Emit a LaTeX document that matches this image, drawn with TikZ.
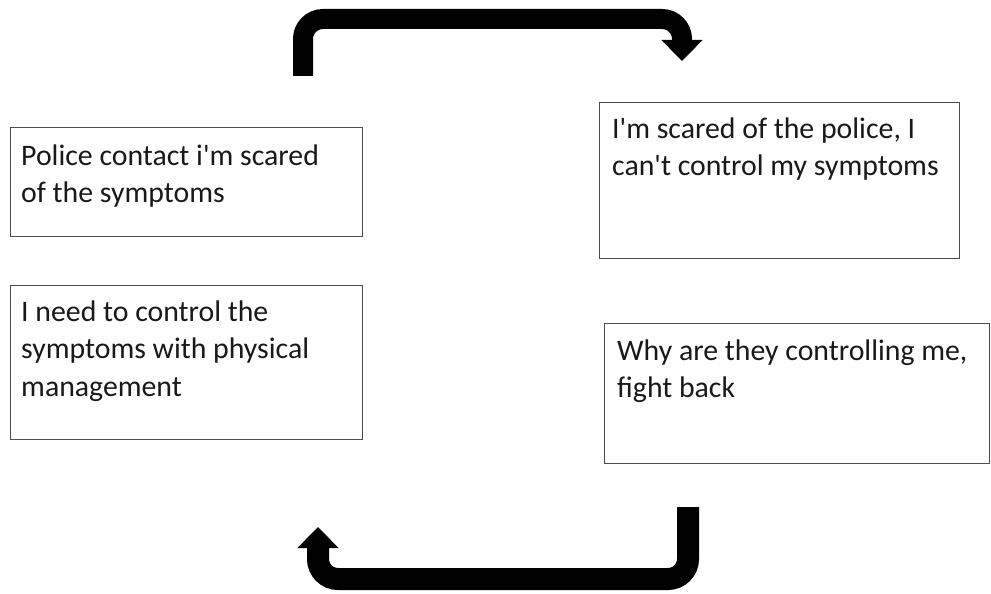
\documentclass[tikz,border=0pt]{standalone}
\usepackage{fontspec}
\newfontfamily\cardfont{Carlito}
\usetikzlibrary{arrows.meta}
\begin{document}
\begin{tikzpicture}[x=1pt, y=-1pt,
  card/.style={draw=black!70, line width=1.3pt, anchor=north west, inner sep=0pt},
  cardtext/.style={anchor=base west, inner sep=0pt, align=left, text=black!90,
    font=\cardfont\fontsize{29.8}{37.5}\selectfont},
  loop/.style={line width=20pt, rounded corners=20pt,
    -{Triangle[length=21pt, width=40pt]}}]
\useasboundingbox (0,0) rectangle (991,594);
% thoughts on the left
\node[card, minimum width=352pt, minimum height=109pt] (scared) at (10,127) {};
\node[cardtext] (scaredtxt) at ([shift={(11pt,-75.5pt)}]scared.north west)
  {Police contact i'm scared\\of the symptoms};
\node[card, minimum width=352pt, minimum height=154pt] (restrain) at (10,285) {};
\node[cardtext] (restraintxt) at ([shift={(11pt,-111pt)}]restrain.north west)
  {I need to control the\\symptoms with physical\\management};
% thoughts on the right
\node[card, minimum width=360pt, minimum height=156pt] (police) at (599,102) {};
\node[cardtext] (policetxt) at ([shift={(13pt,-73.5pt)}]police.north west)
  {I'm scared of the police, I\\can't control my symptoms};
\node[card, minimum width=385pt, minimum height=140pt] (fight) at (604,323) {};
\node[cardtext] (fighttxt) at ([shift={(13pt,-74.5pt)}]fight.north west)
  {Why are they controlling me,\\fight back};
% cycle arrows
\coordinate (topstart) at (303,76);
\coordinate (topend) at (682,61);
\coordinate (botstart) at (688,507);
\coordinate (botend) at (318,527);
\draw[loop] (topstart) |- (682,19) -- (topend);
\draw[loop, line width=22pt] (botstart) |- (318,579) -- (botend);
\end{tikzpicture}
\end{document}
